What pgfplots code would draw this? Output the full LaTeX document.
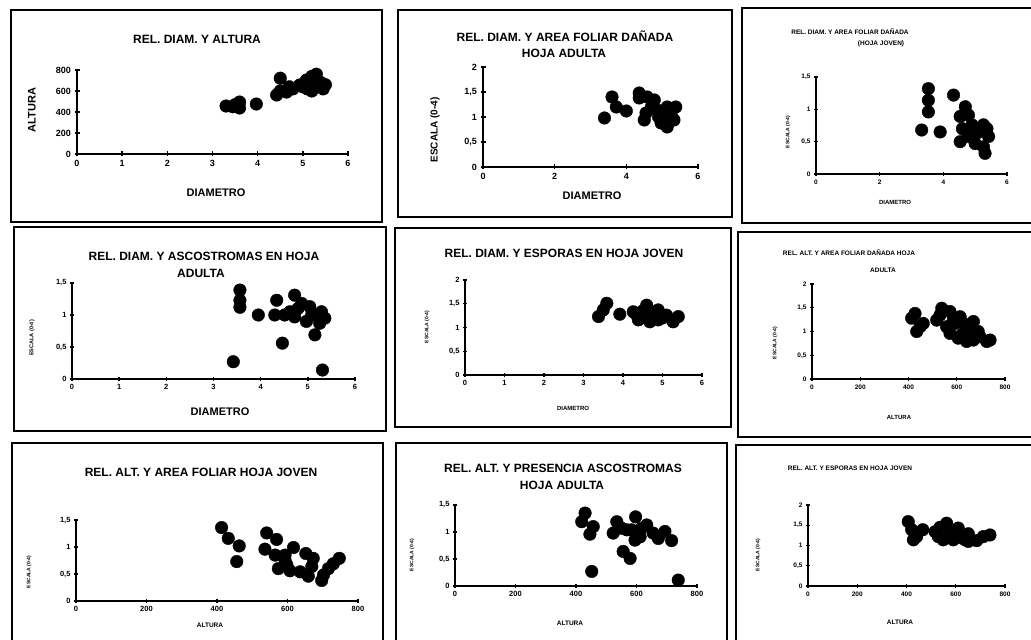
\documentclass[border=0pt]{standalone}
\usepackage{pgfplots}
\pgfplotsset{compat=1.18}
\usepackage{fontspec}
\setmainfont{Liberation Sans}

\pgfplotsset{
  panel/.style={
    scale only axis, axis x line=bottom, axis y line=left,
    axis line style={-, line width=1.6pt, black},
    xmin=0, ymin=0, enlargelimits=false, clip=false,
    tick align=center, major tick length=5pt,
    every tick/.style={black, line width=1.4pt},
    /pgf/number format/use comma,
    /pgf/number format/assume math mode=true,
    scaled ticks=false,
    tick label style={font=\bfseries\fontsize{9}{10}\selectfont},
  },
  small/.style={tick label style={font=\bfseries\fontsize{6.5}{7}\selectfont}, major tick length=4pt},
  mid/.style={tick label style={font=\bfseries\fontsize{7.5}{8}\selectfont}, major tick length=4pt},
  dots/.style={only marks, mark=*, mark size=6.3pt, mark options={fill=black, draw=black}},
}

\begin{document}
\begin{tikzpicture}
\useasboundingbox (0pt,0pt) rectangle (1031pt,640pt);

% frames
\draw[line width=2pt] (11pt,418pt) rectangle (382pt,630pt);
\draw[line width=2pt] (398pt,423pt) rectangle (732pt,630pt);
\draw[line width=2pt] (742pt,417pt) rectangle (1040pt,632pt);
\draw[line width=2pt] (14pt,209pt) rectangle (386pt,413pt);
\draw[line width=2pt] (395pt,213pt) rectangle (731pt,412pt);
\draw[line width=2pt] (738pt,203pt) rectangle (1040pt,408pt);
\draw[line width=2pt] (12pt,-10pt) rectangle (383pt,197pt);
\draw[line width=2pt] (396pt,-10pt) rectangle (727pt,197pt);
\draw[line width=2pt] (736pt,-10pt) rectangle (1040pt,195pt);

% ---------- A ----------
\begin{axis}[panel, at={(77pt,486pt)}, anchor=south west, width=271pt, height=84pt,
  xmax=6, ymax=800, xtick={0,1,...,6}, ytick={0,200,...,800}]
\addplot[dots] coordinates {(3.3,457) (3.45,450) (3.6,438) (3.6,495) (3.5,470) (3.97,476)
 (4.5,722) (4.42,562) (4.5,600) (4.64,590) (4.78,620) (4.93,657) (5.08,705) (5.2,740)
 (5.3,760) (5.2,600) (5.25,650) (5.35,650) (5.1,620) (5.3,700) (5.4,680) (4.7,640)
 (5.15,680) (5.0,640) (5.5,660) (5.45,620)};
\end{axis}
\node[font=\bfseries\fontsize{12}{13}\selectfont] at (197pt,601pt) {REL. DIAM. Y ALTURA};
\node[font=\bfseries\fontsize{11}{12}\selectfont] at (216pt,447pt) {DIAMETRO};
\node[rotate=90,font=\bfseries\fontsize{11}{12}\selectfont] at (32pt,530pt) {ALTURA};

% ---------- B ----------
\begin{axis}[panel, at={(483pt,473pt)}, anchor=south west, width=215pt, height=100pt,
  xmax=6, ymax=2, xtick={0,2,4,6}, ytick={0,0.5,...,2}]
\addplot[dots] coordinates {(3.39,0.98) (3.6,1.4) (3.72,1.2) (4.0,1.12) (4.36,1.48) (4.58,1.4)
 (4.55,1.08) (4.78,1.34) (4.86,1.14) (4.7,1.2) (5.14,1.2) (5.38,1.2) (5.1,0.98) (5.33,0.94)
 (5.14,0.8) (4.97,0.88) (4.5,0.94) (4.36,1.38) (5.25,1.05) (4.9,1.0)};
\end{axis}
\node[font=\bfseries\fontsize{12}{13}\selectfont] at (565pt,604pt) {REL. DIAM. Y AREA FOLIAR DAÑADA};
\node[font=\bfseries\fontsize{12}{13}\selectfont] at (564pt,587pt) {HOJA ADULTA};
\node[font=\bfseries\fontsize{11}{12}\selectfont] at (592pt,444pt) {DIAMETRO};
\node[rotate=90,font=\bfseries\fontsize{10}{11}\selectfont] at (435pt,510pt) {ESCALA (0-4)};

% ---------- C ----------
\begin{axis}[panel, small, at={(816pt,466pt)}, anchor=south west, width=191pt, height=97pt,
  xmax=6, ymax=1.5, xtick={0,2,4,6}, ytick={0,0.5,...,1.5}]
\addplot[dots] coordinates {(3.53,1.32) (3.53,1.14) (3.53,0.96) (3.32,0.68) (3.9,0.65) (4.32,1.22)
 (4.69,1.04) (4.53,0.89) (4.79,0.91) (4.9,0.76) (4.53,0.5) (4.79,0.58) (5.05,0.63) (5.26,0.76)
 (5.42,0.58) (5.26,0.42) (5.31,0.32) (5.0,0.47) (5.37,0.7) (4.6,0.7)};
\end{axis}
\node[font=\bfseries\fontsize{6.5}{7}\selectfont] at (850pt,608pt) {REL. DIAM. Y AREA FOLIAR DAÑADA};
\node[font=\bfseries\fontsize{6.5}{7}\selectfont] at (881pt,596pt) {(HOJA JOVEN)};
\node[font=\bfseries\fontsize{6}{7}\selectfont] at (895pt,438pt) {DIAMETRO};
\node[rotate=90,font=\bfseries\fontsize{5}{6}\selectfont] at (788pt,508pt) {ESCALA (0-4)};

% ---------- D ----------
\begin{axis}[panel, mid, at={(72pt,261pt)}, anchor=south west, width=283pt, height=96pt,
  xmax=6, ymax=1.5, xtick={0,1,...,6}, ytick={0,0.5,...,1.5}]
\addplot[dots] coordinates {(3.56,1.39) (3.56,1.23) (3.56,1.12) (3.42,0.27) (3.95,1.0) (4.34,1.23)
 (4.3,1.0) (4.51,1.0) (4.46,0.56) (4.72,1.31) (4.62,1.05) (4.79,1.1) (4.72,0.97) (4.87,1.18)
 (5.04,1.13) (4.97,0.9) (5.15,1.0) (5.29,1.05) (5.36,0.95) (5.25,0.87) (5.15,0.69) (5.31,0.14)
 (5.08,1.0)};
\end{axis}
\node[font=\bfseries\fontsize{12}{13}\selectfont] at (204pt,384pt) {REL. DIAM. Y ASCOSTROMAS EN HOJA};
\node[font=\bfseries\fontsize{12}{13}\selectfont] at (201pt,367pt) {ADULTA};
\node[font=\bfseries\fontsize{11}{12}\selectfont] at (220pt,228pt) {DIAMETRO};
\node[rotate=90,font=\bfseries\fontsize{5.5}{6}\selectfont] at (32pt,302pt) {ESCALA (0-4)};

% ---------- E ----------
\begin{axis}[panel, mid, at={(465pt,265pt)}, anchor=south west, width=237pt, height=95pt,
  xmax=6, ymax=2, xtick={0,1,...,6}, ytick={0,0.5,...,2}]
\addplot[dots] coordinates {(3.38,1.23) (3.5,1.37) (3.59,1.51) (3.92,1.28) (4.26,1.33) (4.39,1.16)
 (4.6,1.47) (4.64,1.26) (4.68,1.12) (4.89,1.37) (4.89,1.16) (5.1,1.26) (5.27,1.12) (5.4,1.23)
 (4.35,1.26) (4.5,1.35) (5.0,1.2)};
\end{axis}
\node[font=\bfseries\fontsize{12}{13}\selectfont] at (564pt,387pt) {REL. DIAM. Y ESPORAS EN HOJA JOVEN};
\node[font=\bfseries\fontsize{6}{7}\selectfont] at (573pt,232pt) {DIAMETRO};
\node[rotate=90,font=\bfseries\fontsize{5}{6}\selectfont] at (427pt,313pt) {ESCALA (0-4)};

% ---------- F ----------
\begin{axis}[panel, small, at={(812pt,261pt)}, anchor=south west, width=193pt, height=95pt,
  xmax=800, ymax=2, xtick={0,200,...,800}, ytick={0,0.5,...,2}]
\addplot[dots] coordinates {(427,1.38) (413,1.28) (448,1.1) (461,1.17) (434,1.0) (531,1.35)
 (517,1.24) (538,1.49) (572,1.42) (586,1.24) (558,1.1) (572,0.96) (593,1.17) (614,1.31)
 (627,1.17) (648,1.03) (669,1.21) (620,0.93) (641,0.79) (669,0.82) (696,0.89) (724,0.79)
 (738,0.82) (689,1.0) (606,0.86)};
\end{axis}
\node[font=\bfseries\fontsize{6.5}{7}\selectfont] at (849pt,387pt) {REL. ALT. Y AREA FOLIAR DAÑADA HOJA};
\node[font=\bfseries\fontsize{6.5}{7}\selectfont] at (883pt,370pt) {ADULTA};
\node[font=\bfseries\fontsize{6}{7}\selectfont] at (899pt,223pt) {ALTURA};
\node[rotate=90,font=\bfseries\fontsize{5}{6}\selectfont] at (775pt,297pt) {ESCALA (0-4)};

% ---------- G ----------
\begin{axis}[panel, mid, at={(76pt,39pt)}, anchor=south west, width=282pt, height=81pt,
  xmax=800, ymax=1.5, xtick={0,200,...,800}, ytick={0,0.5,...,1.5}]
\addplot[dots] coordinates {(413,1.36) (432,1.16) (463,1.02) (456,0.73) (541,1.26) (569,1.14)
 (536,0.96) (565,0.85) (593,0.85) (617,0.99) (574,0.6) (598,0.67) (607,0.56) (636,0.54)
 (652,0.88) (673,0.79) (659,0.46) (669,0.64) (702,0.48) (716,0.6) (730,0.69) (747,0.79)
 (697,0.38) (593,0.76)};
\end{axis}
\node[font=\bfseries\fontsize{12}{13}\selectfont] at (201pt,168pt) {REL. ALT. Y AREA FOLIAR HOJA JOVEN};
\node[font=\bfseries\fontsize{6.5}{7}\selectfont] at (210pt,15pt) {ALTURA};
\node[rotate=90,font=\bfseries\fontsize{5}{6}\selectfont] at (29pt,68pt) {ESCALA (0-4)};

% ---------- H ----------
\begin{axis}[panel, mid, at={(455pt,54pt)}, anchor=south west, width=242pt, height=81pt,
  xmax=800, ymax=1.5, xtick={0,200,...,800}, ytick={0,0.5,...,1.5}]
\addplot[dots] coordinates {(430,1.35) (419,1.19) (457,1.1) (446,0.96) (452,0.27) (535,1.19)
 (523,0.98) (551,1.07) (556,0.64) (579,0.51) (597,1.28) (584,1.04) (595,0.85) (617,1.07)
 (634,1.13) (655,0.98) (672,0.88) (694,1.01) (716,0.84) (738,0.11) (568,1.04) (612,0.91)};
\end{axis}
\node[font=\bfseries\fontsize{12}{13}\selectfont] at (563pt,172pt) {REL. ALT. Y PRESENCIA ASCOSTROMAS};
\node[font=\bfseries\fontsize{12}{13}\selectfont] at (562pt,155pt) {HOJA ADULTA};
\node[font=\bfseries\fontsize{6.5}{7}\selectfont] at (570pt,17pt) {ALTURA};
\node[rotate=90,font=\bfseries\fontsize{5}{6}\selectfont] at (412pt,85pt) {ESCALA (0-4)};

% ---------- I ----------
\begin{axis}[panel, small, at={(808pt,54pt)}, anchor=south west, width=197pt, height=81pt,
  xmax=800, ymax=2, xtick={0,200,...,800}, ytick={0,0.5,...,2}]
\addplot[dots] coordinates {(407,1.59) (421,1.39) (441,1.22) (466,1.39) (428,1.14) (516,1.34)
 (536,1.45) (529,1.22) (563,1.55) (577,1.3) (549,1.14) (590,1.14) (610,1.43) (617,1.2)
 (638,1.14) (651,1.29) (651,1.1) (685,1.12) (712,1.22) (739,1.26) (590,1.26)};
\end{axis}
\node[font=\bfseries\fontsize{6.5}{7}\selectfont] at (850pt,172pt) {REL. ALT. Y ESPORAS EN HOJA JOVEN};
\node[font=\bfseries\fontsize{6.5}{7}\selectfont] at (900pt,18pt) {ALTURA};
\node[rotate=90,font=\bfseries\fontsize{5}{6}\selectfont] at (758pt,85pt) {ESCALA (0-4)};
\end{tikzpicture}
\end{document}
